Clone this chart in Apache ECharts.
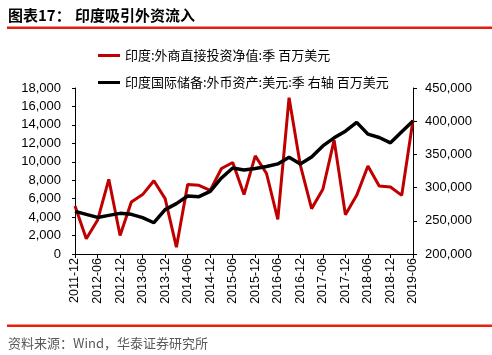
<!DOCTYPE html>
<html><head><meta charset="utf-8">
<script src="https://cdn.jsdelivr.net/npm/echarts@6/dist/echarts.min.js"></script>
<style>html,body{margin:0;padding:0;background:#fff}#c{width:492px;height:355px}</style>
</head><body><div id="c"></div>
<script>
const categories = ["2011-12","2012-03","2012-06","2012-09","2012-12","2013-03","2013-06","2013-09","2013-12","2014-03","2014-06","2014-09","2014-12","2015-03","2015-06","2015-09","2015-12","2016-03","2016-06","2016-09","2016-12","2017-03","2017-06","2017-09","2017-12","2018-03","2018-06","2018-09","2018-12","2019-03","2019-06"];
const fdiValues = [5200,1650,3650,8100,2000,5640,6440,7950,6000,740,7530,7450,6900,9270,9920,6440,10640,8730,3750,16950,9630,4920,7020,12350,4260,6360,9550,7380,7270,6360,14520];
const reserveValues = [264200,259700,255100,258200,261200,259700,254700,247100,266800,275800,287300,286400,294400,314500,329600,326600,328700,331700,335700,345800,335700,346200,362800,374900,385000,398200,380500,375500,367400,384000,400200];
const leftTicks = {min:0, max:18000, interval:2000};
const rightTicks = {min:200000, max:450000, interval:50000};
const seriesNames = ["印度:外商直接投资净值:季 百万美元","印度国际储备:外币资产:美元:季 右轴 百万美元"];

const fmt = v => String(v).replace(/\B(?=(\d{3})+(?!\d))/g, ",");
const chart = echarts.init(document.getElementById('c'));
const numFont = {fontFamily:'Liberation Sans, Arial', fontSize:13, color:'#000'};
chart.setOption({
  animation:false,
  backgroundColor:'#fff',
  grid:{left:75, right:79, top:88, bottom:101, containLabel:false},
  legend:[
    {data:[seriesNames[0]], left:93, top:44, itemWidth:22, itemHeight:3, icon:'rect',
     textStyle:{fontFamily:'Noto Sans CJK SC', fontSize:13, color:'#000'}},
    {data:[seriesNames[1]], left:93, top:71, itemWidth:22, itemHeight:3, icon:'rect',
     textStyle:{fontFamily:'Noto Sans CJK SC', fontSize:13, color:'#000'}}
  ],
  xAxis:{type:'category', data:categories, boundaryGap:false,
    axisLine:{lineStyle:{color:'#000', width:1}},
    axisTick:{interval:1, length:4, lineStyle:{color:'#000'}},
    axisLabel:{interval:1, rotate:90, margin:4, fontFamily:'Liberation Sans, Arial', fontSize:12.5, color:'#000'}},
  yAxis:[
    {type:'value', min:leftTicks.min, max:leftTicks.max, interval:leftTicks.interval,
     splitLine:{show:false}, axisLine:{show:true, lineStyle:{color:'#000'}},
     axisTick:{show:true, length:3, lineStyle:{color:'#000'}},
     axisLabel:Object.assign({margin:14, formatter:fmt}, numFont)},
    {type:'value', min:rightTicks.min, max:rightTicks.max, interval:rightTicks.interval,
     splitLine:{show:false}, axisLine:{show:true, lineStyle:{color:'#000'}},
     axisTick:{show:true, length:4, lineStyle:{color:'#000'}},
     axisLabel:Object.assign({margin:12, formatter:fmt}, numFont)}
  ],
  series:[
    {name:seriesNames[0], type:'line', data:fdiValues, yAxisIndex:0, symbol:'none',
     lineStyle:{color:'#C00000', width:3}, itemStyle:{color:'#C00000'}},
    {name:seriesNames[1], type:'line', data:reserveValues, yAxisIndex:1, symbol:'none',
     lineStyle:{color:'#000', width:3.5}, itemStyle:{color:'#000'}}
  ],
  graphic:[
    {type:'text', left:8, top:8, style:{text:'图表17：', font:'bold 15px "Noto Sans CJK SC"', fill:'#000'}},
    {type:'text', left:75, top:8, style:{text:'印度吸引外资流入', font:'bold 15px "Noto Sans CJK SC"', fill:'#000'}},
    {type:'rect', shape:{x:7, y:26.5, width:485, height:2.5}, style:{fill:'#E0200F'}},
    {type:'rect', shape:{x:7, y:324.5, width:485, height:2.5}, style:{fill:'#E8200F'}},
    {type:'text', left:8, top:337, style:{text:'资料来源：Wind，华泰证券研究所', font:'13px "Noto Sans CJK SC"', fill:'#595959'}}
  ]
});
</script></body></html>
